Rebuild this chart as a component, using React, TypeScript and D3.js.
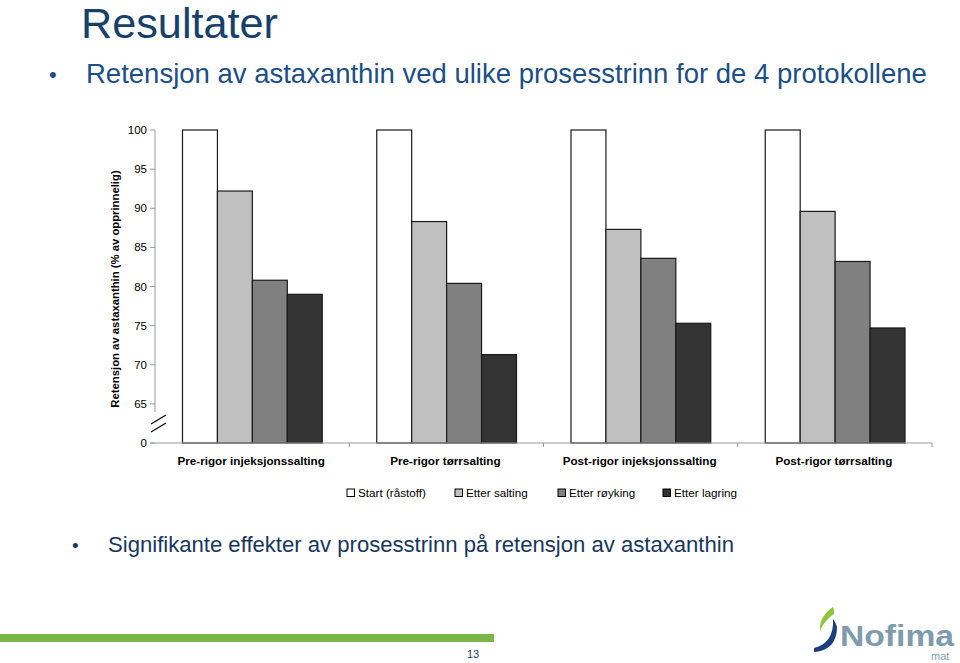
import React from "react";
import * as d3 from "d3";

const categories = [
  "Pre-rigor injeksjonssalting",
  "Pre-rigor tørrsalting",
  "Post-rigor injeksjonssalting",
  "Post-rigor tørrsalting",
];
const seriesNames = ["Start (råstoff)", "Etter salting", "Etter røyking", "Etter lagring"];
const seriesColors = ["#FFFFFF", "#C0C0C0", "#808080", "#333333"];
const startValues = [100, 100, 100, 100];
const saltingValues = [92.2, 88.3, 87.3, 89.6];
const roykingValues = [80.8, 80.4, 83.6, 83.2];
const lagringValues = [79.0, 71.3, 75.3, 74.7];
const seriesValues = [startValues, saltingValues, roykingValues, lagringValues];
const yTicks = [60, 65, 70, 75, 80, 85, 90, 95, 100];
const yTickLabels = ["0", "65", "70", "75", "80", "85", "90", "95", "100"];

const FONT = "'Liberation Sans', Arial, sans-serif";

export default function App() {
  const W = 960;
  const H = 663;
  const plotLeft = 155;
  const plotRight = 932;
  const plotTop = 130;
  const plotBottom = 443;

  const x0 = d3.scaleBand<string>().domain(categories).range([plotLeft, plotRight]).padding(0);
  const step = x0.bandwidth();
  const x1 = d3
    .scaleBand<string>()
    .domain(seriesNames)
    .range([27.5, step - 27])
    .padding(0);
  const y = d3.scaleLinear().domain([60, 100]).range([plotBottom, plotTop]);

  const legendX = [347, 455, 558, 663];

  return (
    <svg
      width={W}
      height={H}
      style={{ position: "absolute", left: 0, top: 0, background: "#fff" }}
      fontFamily={FONT}
    >
      <rect x={0} y={0} width={W} height={H} fill="#fff" />
      {/* Title */}
      <text x={81} y={38} fontSize={42} fill="#17406D" textLength={197} lengthAdjust="spacingAndGlyphs">
        Resultater
      </text>
      <text x={49} y={82} fontSize={22} fill="#1C4F86">
        •
      </text>
      <text x={86} y={83} fontSize={27.5} fill="#1C4F86">
        Retensjon av astaxanthin ved ulike prosesstrinn for de 4 protokollene
      </text>

      {/* Y axis */}
      <line x1={plotLeft} x2={plotLeft} y1={plotTop} y2={412} stroke="#999" strokeWidth={1} />
      {yTicks.map((t, i) => (
        <g key={t}>
          <line x1={plotLeft - 5} x2={plotLeft} y1={y(t)} y2={y(t)} stroke="#999" />
          <text
            x={plotLeft - 8}
            y={y(t)}
            dy="0.35em"
            textAnchor="end"
            fontSize={11.5}
            fill="#000"
          >
            {yTickLabels[i]}
          </text>
        </g>
      ))}
      {/* axis break */}
      <line x1={151} x2={166} y1={424} y2={415} stroke="#000" strokeWidth={1.3} />
      <line x1={151} x2={166} y1={432} y2={423} stroke="#000" strokeWidth={1.3} />

      <text
        transform={`translate(${119},${289}) rotate(-90)`}
        textAnchor="middle"
        fontSize={11.3}
        fontWeight="bold"
        fill="#000"
      >
        Retensjon av astaxanthin (% av opprinnelig)
      </text>

      {/* Bars */}
      {categories.map((c, ci) => (
        <g key={c} transform={`translate(${x0(c)},0)`}>
          {seriesNames.map((s, si) => {
            const v = seriesValues[si][ci];
            return (
              <rect
                key={s}
                x={x1(s)}
                y={y(v)}
                width={x1.bandwidth()}
                height={plotBottom - y(v)}
                fill={seriesColors[si]}
                stroke="#1a1a1a"
                strokeWidth={1.2}
              />
            );
          })}
        </g>
      ))}

      {/* X axis */}
      <line x1={plotLeft - 5} x2={plotRight} y1={plotBottom} y2={plotBottom} stroke="#999" strokeWidth={1} />
      {categories.map((c) => (
        <line
          key={c}
          x1={(x0(c) as number) + step}
          x2={(x0(c) as number) + step}
          y1={plotBottom}
          y2={plotBottom + 4}
          stroke="#999"
        />
      ))}
      {categories.map((c) => (
        <text
          key={c}
          x={(x0(c) as number) + step / 2 - 1}
          y={465}
          textAnchor="middle"
          fontSize={11.7}
          fontWeight="bold"
          fill="#000"
        >
          {c}
        </text>
      ))}

      {/* Legend */}
      {seriesNames.map((s, i) => (
        <g key={s}>
          <rect
            x={legendX[i]}
            y={489}
            width={7.5}
            height={7.5}
            fill={seriesColors[i]}
            stroke="#000"
            strokeWidth={1}
          />
          <text x={legendX[i] + 11} y={497} fontSize={11.7} fill="#000">
            {s}
          </text>
        </g>
      ))}

      {/* Bullet 2 */}
      <text x={72} y={552} fontSize={19} fill="#17375E">
        •
      </text>
      <text x={108} y={552} fontSize={22.1} fill="#17375E">
        Signifikante effekter av prosesstrinn på retensjon av astaxanthin
      </text>

      {/* Footer */}
      <rect x={0} y={634} width={494} height={8} fill="#7AB648" />
      <text x={467} y={658} fontSize={11} fill="#1F3864">
        13
      </text>

      {/* Logo */}
      <path
        d="M833,607 C825,612 819,621 820,631 C823,624 828,618 834,614 C834,611 834,609 833,607 Z"
        fill="#8DC63F"
      />
      <path
        d="M833,619 C834,635 827,645 814,648 L814,652 C830,651 837,641 837,627 C836,624 835,621 833,619 Z"
        fill="#1F3F7A"
      />
      <text
        x={840}
        y={646}
        fontSize={29}
        fontWeight="bold"
        fill="#7E9CAE"
        textLength={114}
        lengthAdjust="spacingAndGlyphs"
      >
        Nofima
      </text>
      <text x={931} y={660} fontSize={11} fill="#7E9CAE">
        mat
      </text>
    </svg>
  );
}
